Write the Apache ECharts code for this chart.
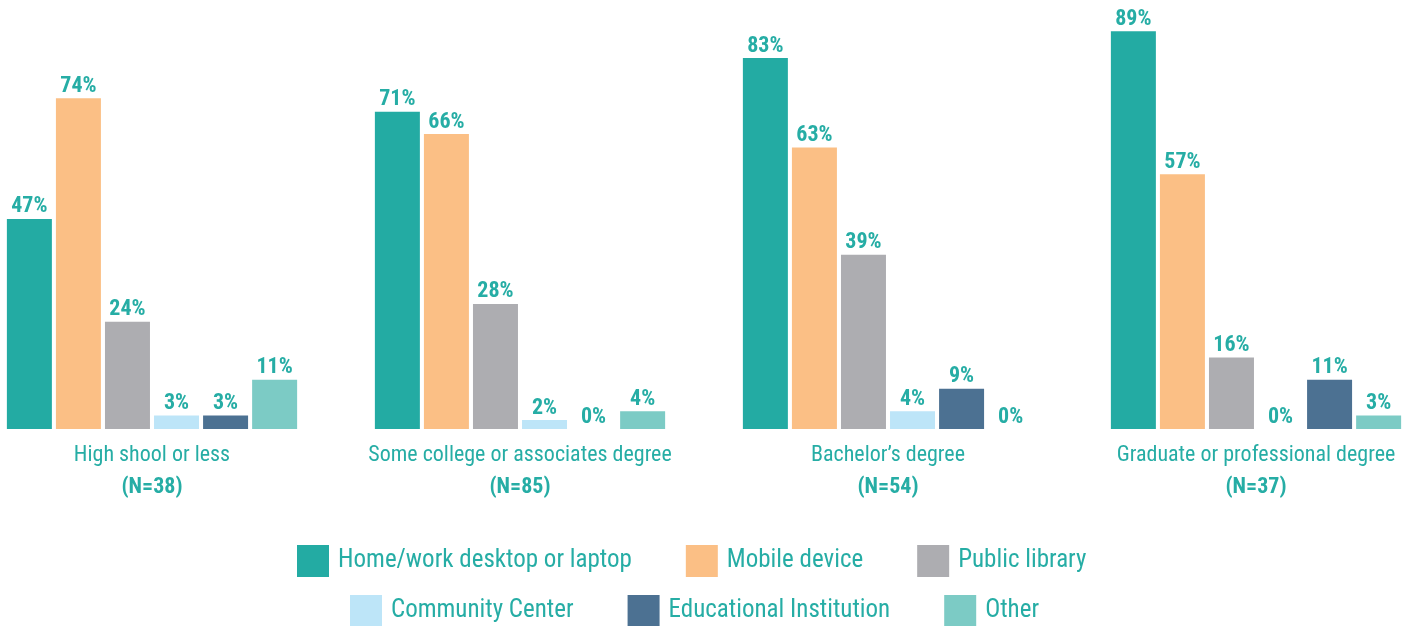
<!DOCTYPE html>
<html>
<head>
<meta charset="utf-8">
<script src="https://cdn.jsdelivr.net/npm/echarts@6/dist/echarts.min.js"></script>
<style>
html,body{margin:0;padding:0;background:#fff;overflow:hidden;}
#chart{position:absolute;left:-32px;top:0;width:1472px;height:626px;}
</style>
</head>
<body>
<div id="chart"></div>
<script>
var categories = ['High shool or less', 'Some college or associates degree', "Bachelor\u2019s degree", 'Graduate or professional degree'];
var sampleSizes = ['N=38', 'N=85', 'N=54', 'N=37'];
var seriesNames = ['Home/work desktop or laptop', 'Mobile device', 'Public library', 'Community Center', 'Educational Institution', 'Other'];
var homeWork = [47, 71, 83, 89];
var mobile = [74, 66, 63, 57];
var publicLibrary = [24, 28, 39, 16];
var community = [3, 2, 4, 0];
var educational = [3, 0, 9, 11];
var other = [11, 4, 0, 3];

var colors = ['#23ABA3', '#FBBF85', '#ADADB1', '#BDE5F8', '#4C7192', '#7CCBC5'];
var teal = '#26ADA5';
var font = "'Roboto Condensed', Roboto, sans-serif";

// chart div is 1472 wide and shifted 32px left so the 4 groups land where the original has them
var myChart = echarts.init(document.getElementById('chart'));

var values = [homeWork, mobile, publicLibrary, community, educational, other];
var series = [];
for (var i = 0; i < values.length; i++) {
	series.push({
		name: seriesNames[i],
		type: 'bar',
		data: values[i],
		barWidth: 45,
		barGap: '9%',
		itemStyle: {color: colors[i]},
		label: {
			show: true,
			position: 'top',
			distance: 1,
			formatter: '{c}%',
			color: teal,
			fontFamily: font,
			fontWeight: 'bold',
			fontSize: 22
		}
	});
}

var legendText = {color: teal, fontSize: 25, fontFamily: font, padding: [6, 0, 0, 4]};

myChart.setOption({
	animation: false,
	color: colors,
	grid: {left: 0, right: 0, top: 0, bottom: 197, containLabel: false},
	legend: [
		{
			data: seriesNames.slice(0, 3),
			left: 329, top: 545, padding: 0,
			itemWidth: 32, itemHeight: 32, itemGap: 54,
			icon: 'rect',
			textStyle: legendText
		},
		{
			data: seriesNames.slice(3),
			left: 382, top: 595, padding: 0,
			itemWidth: 32, itemHeight: 32, itemGap: 54,
			icon: 'rect',
			textStyle: legendText
		}
	],
	xAxis: {
		type: 'category',
		data: categories,
		axisLine: {show: false},
		axisTick: {show: false},
		axisLabel: {
			margin: 10,
			interval: 0,
			formatter: function (v, idx) {
				return '{a|' + v + '}\n{b|(' + sampleSizes[idx] + ')}';
			},
			rich: {
				a: {color: teal, fontSize: 22, fontFamily: font, lineHeight: 32},
				b: {color: teal, fontSize: 22, fontFamily: font, fontWeight: 'bold', lineHeight: 32}
			}
		}
	},
	yAxis: {
		type: 'value',
		min: 0,
		max: 96,
		show: false,
		splitLine: {show: false}
	},
	series: series
});
</script>
</body>
</html>
